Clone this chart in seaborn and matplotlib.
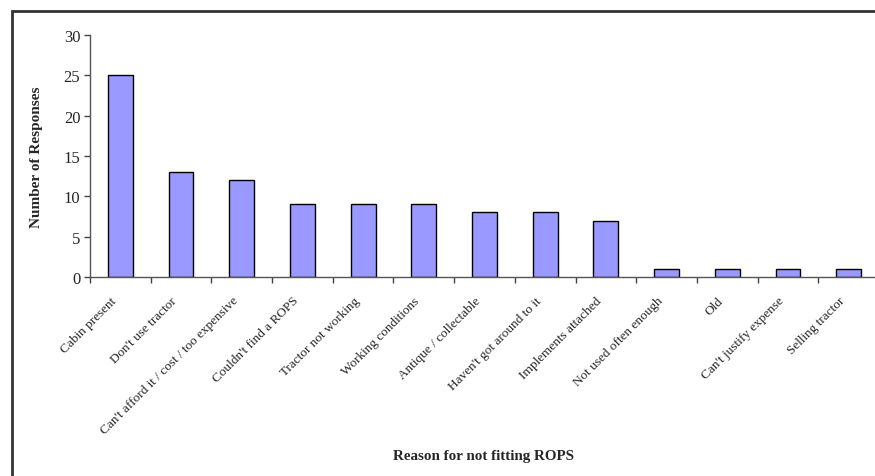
import matplotlib
matplotlib.use("Agg")
import matplotlib.pyplot as plt
import matplotlib.transforms as mtransforms
import seaborn as sns
import pandas as pd

reasons = [
    "Cabin present",
    "Don't use tractor",
    "Can't afford it / cost / too expensive",
    "Couldn't find a ROPS",
    "Tractor not working",
    "Working conditions",
    "Antique / collectable",
    "Haven't got around to it",
    "Implements attached",
    "Not used often enough",
    "Old",
    "Can't justify expense",
    "Selling tractor",
]
responses = [25, 13, 12, 9, 9, 9, 8, 8, 7, 1, 1, 1, 1]

sns.set_style("white")
plt.rcParams["font.family"] = ["Liberation Serif", "DejaVu Serif"]

df = pd.DataFrame({"reason": reasons, "responses": responses})

fig = plt.figure(figsize=(8.75, 4.77), dpi=100)
ax = fig.add_axes([90 / 875, 1 - 278 / 477, 789 / 875, 242 / 477])

sns.barplot(data=df, x="reason", y="responses", color="#9999FF",
            edgecolor="black", linewidth=1.0, width=0.41, saturation=1,
            ax=ax)

ax.set_ylim(0, 30)
ax.set_xlim(-0.5, len(reasons) - 0.5)
ax.set_yticks(range(0, 31, 5))
ax.tick_params(axis="y", labelsize=12, length=4, width=1, direction="out",
               left=True, color="#444444", pad=3)

# category boundary ticks on the x axis
ax.set_xticks([i - 0.5 for i in range(len(reasons) + 1)], minor=True)
ax.tick_params(axis="x", which="minor", length=4, width=1, direction="out",
               bottom=True, color="#444444")
ax.tick_params(axis="x", which="major", length=0, pad=6)
ax.set_xticks(range(len(reasons)))
ax.set_xticklabels(reasons, rotation=45, ha="right", rotation_mode="anchor",
                   fontsize=9.5)
shift = mtransforms.ScaledTranslation(-10 / 100, -9 / 100, fig.dpi_scale_trans)
for lbl in ax.get_xticklabels():
    lbl.set_transform(lbl.get_transform() + shift)

for side in ("top", "right"):
    ax.spines[side].set_visible(False)
for side in ("left", "bottom"):
    ax.spines[side].set_color("#555555")
    ax.spines[side].set_linewidth(1.0)

ax.set_xlabel("")
ax.set_ylabel("")
fig.text(37 / 875, 1 - 157 / 477, "Number of Responses", rotation=90,
         ha="center", va="center", fontsize=11, fontweight="bold")
fig.text(483 / 875, 1 - 457 / 477, "Reason for not fitting ROPS",
         ha="center", va="center", fontsize=10.8, fontweight="bold")

# outer chart frame
frame = plt.Rectangle((12 / 875, -0.1), 1.2, 1 - 12 / 477 + 0.1,
                      transform=fig.transFigure, fill=False,
                      edgecolor="#333333", linewidth=2.0)
fig.patches.append(frame)

fig.savefig("out.png", dpi=100)
